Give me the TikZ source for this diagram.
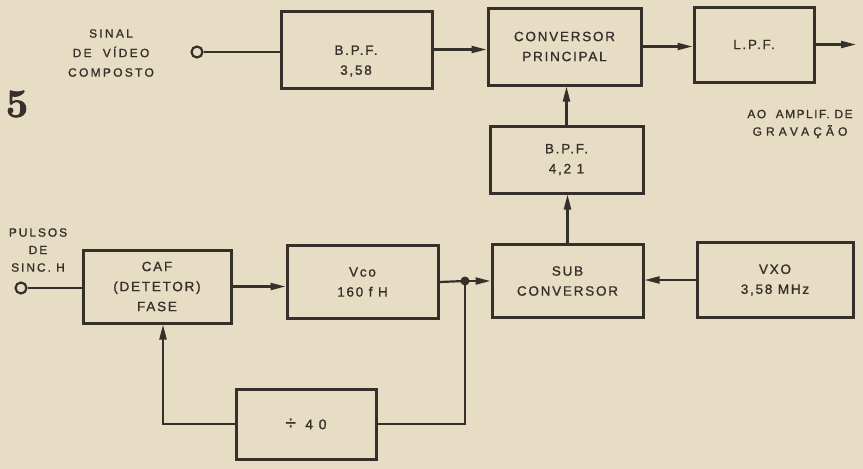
\documentclass[tikz,border=0pt]{standalone}
\usepackage{fontspec}
\setmainfont{Liberation Sans}
\usetikzlibrary{arrows.meta}
\definecolor{paper}{HTML}{E7DCC4}
\definecolor{ink}{HTML}{36302A}
\newfontfamily\numfont[FakeBold=2]{Latin Modern Roman}
\tikzset{
  blk/.style={draw=ink, line width=3pt, inner sep=0pt, align=center,
    font=\fontsize{13.5}{20}\selectfont\addfontfeature{LetterSpace=13,FakeBold=1.1}, text=ink},
  conn/.style={draw=ink, line width=2.2pt},
  arr/.style={conn, -{Triangle[length=15pt,width=7pt]}},
  lbl/.style={align=center, text=ink, inner sep=0pt,
    font=\fontsize{12}{19.5}\selectfont\addfontfeature{LetterSpace=19,FakeBold=1.1}},
  port/.style={circle, draw=ink, line width=2.2pt, fill=paper, minimum size=11pt, inner sep=0pt}
}
\begin{document}
\begin{tikzpicture}[x=1pt,y=-1pt]
\fill[paper] (0,0) rectangle (863,469);
\useasboundingbox (0,0) rectangle (863,469);

% boxes
\node[blk, minimum width=151pt, minimum height=77pt] (bpf1) at (356.5,49.5) {};
\node[blk, draw=none, anchor=center] (bpf1t) at (356,61) {B.P.F.\\3,58};
\node[blk, minimum width=153pt, minimum height=77pt] (cp) at (564.5,46.5) {CONVERSOR\\PRINCIPAL};
\node[blk, minimum width=120pt, minimum height=75pt] (lpf) at (754,44.5) {L.P.F.};
\node[blk, minimum width=153pt, minimum height=67pt] (bpf2) at (566.5,159.5) {B.P.F.\\4,2 1};
\node[blk, minimum width=151pt, minimum height=73pt] (sub) at (567.5,281) {SUB\\CONVERSOR};
\node[blk, minimum width=156pt, minimum height=75pt] (vxo) at (775,280) {VXO\\3,58 MHz};
\node[blk, minimum width=148pt, minimum height=73pt] (caf) at (157,286.5) {CAF\\(DETETOR)\\FASE};
\node[blk, minimum width=151pt, minimum height=73pt] (vco) at (362.5,282) {Vco\\160 f H};
\node[blk, minimum width=140pt, minimum height=70pt, font=\fontsize{14}{20}\selectfont\addfontfeature{LetterSpace=40,FakeBold=1.1}] (div) at (306,424) {{\fontsize{19}{20}\selectfont ÷} 40};

% labels
\node[lbl] (sinal) at (111,53) {SINAL\\DE\ \ VÍDEO\\COMPOSTO};
\node[lbl, font=\fontsize{12}{17.5}\selectfont\addfontfeature{LetterSpace=16,FakeBold=1.1}] (pulsos) at (38,250) {PULSOS\\DE\\SINC. H};
\node[lbl, font=\fontsize{12}{17.5}\selectfont\addfontfeature{LetterSpace=12,FakeBold=1.1}] (ao) at (800,124) {AO\ \ AMPLIF. DE\\\addfontfeature{LetterSpace=34}GRAVAÇÃO};
\node[text=ink, inner sep=0pt, font=\numfont\bfseries\fontsize{40}{40}\selectfont] (num) at (17,104) {5};

% ports and points
\node[port] (in1) at (197,52) {};
\node[port] (in2) at (21,288) {};
\coordinate (out) at (856,44.5);
\coordinate (j) at (465,281);
\coordinate (fb) at (163,0);

% connectors
\draw[conn] (in1.east) -- (in1.east -| bpf1.west);
\draw[arr] (bpf1.east) -- (bpf1.east -| cp.west);
\draw[arr] (cp.east) -- (cp.east -| lpf.west);
\draw[arr] (lpf.east) -- (out);
\draw[arr] (bpf2.north) -- (bpf2.north |- cp.south);
\draw[arr] (sub.north) -- (sub.north |- bpf2.south);
\draw[arr] (vxo.west) -- (vxo.west -| sub.east);
\draw[conn] (in2.east) -- (in2.east -| caf.west);
\draw[arr] (caf.east) -- (caf.east -| vco.west);
\draw[conn] (vco.east) -- (j);
\draw[arr] (j) -- (j -| sub.west);
\draw[conn] (j) |- (div.east);
\draw[arr] (div.west) -| (fb |- caf.south);
\fill[ink] (j) circle (4.5pt);
\end{tikzpicture}
\end{document}
